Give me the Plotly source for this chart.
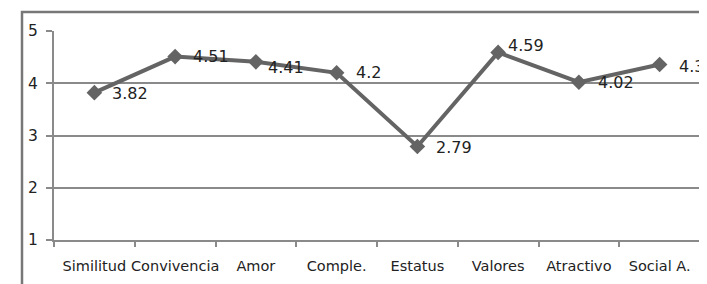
import plotly.graph_objects as go

categories = ["Similitud", "Convivencia", "Amor", "Comple.", "Estatus", "Valores", "Atractivo", "Social A."]
values = [3.82, 4.51, 4.41, 4.2, 2.79, 4.59, 4.02, 4.36]
value_labels = ["3.82", "4.51", "4.41", "4.2", "2.79", "4.59", "4.02", "4.36"]
label_dx = [16, 16, 10, 17, 17, 8, 17, 17]
label_dy = [-1, 0, -6, 0, -1, 7, 0, -2]
y_ticks = [1, 2, 3, 4, 5]

LINE = "#646464"
GRID = "#8a8a8a"
FONT = "DejaVu Sans"
TXT = "#222222"

fig = go.Figure()
fig.add_trace(go.Scatter(
    x=categories, y=values, mode="lines+markers",
    line=dict(color=LINE, width=4),
    marker=dict(symbol="diamond", size=12, color=LINE),
    cliponaxis=False, showlegend=False, hoverinfo="skip",
))

for c, v, t, dx, dy in zip(categories, values, value_labels, label_dx, label_dy):
    fig.add_annotation(x=c, y=v, text=t, showarrow=False, xanchor="left", yanchor="middle",
                       xshift=dx, yshift=dy, font=dict(family=FONT, size=16, color=TXT))

# page body has an 8px default margin; compensate so the plot lands at page px
OFF = 8
W, H = 707, 284
ml, mr, mt, mb = 54 - OFF, 7 + OFF, 31 - OFF, 44 + OFF
pw, ph = W - ml - mr, H - mt - mb
def px_x(p):
    return (p - OFF - ml) / pw
def px_y(p):
    return (H - mb - (p - OFF)) / ph

fig.add_shape(type="rect", xref="paper", yref="paper",
              x0=px_x(22), x1=px_x(740), y0=px_y(320), y1=px_y(12),
              line=dict(color="#777777", width=2.5), fillcolor="rgba(0,0,0,0)", layer="below")

fig.update_layout(
    width=W, height=H,
    margin=dict(l=ml, r=mr, t=mt, b=mb, autoexpand=False),
    paper_bgcolor="white", plot_bgcolor="white",
    font=dict(family=FONT, size=14, color=TXT),
    xaxis=dict(
        type="category", tickson="boundaries", range=[-0.5, 7.5],
        showgrid=False, showline=True, linecolor=GRID, linewidth=2,
        ticks="outside", ticklen=5, tickwidth=2, tickcolor=GRID,
        tickangle=0, automargin=False,
        tickfont=dict(family=FONT, size=14.5, color=TXT),
        ticklabelstandoff=12,
    ),
    yaxis=dict(
        range=[1, 5], tickvals=y_ticks, showgrid=True, gridcolor=GRID, gridwidth=2,
        showline=True, linecolor=GRID, linewidth=2, zeroline=False,
        ticks="outside", ticklen=6, tickwidth=2, tickcolor=GRID, automargin=False,
        tickfont=dict(family=FONT, size=15.5, color=TXT),
        ticklabelstandoff=5,
    ),
)

fig.write_html("out.html")
